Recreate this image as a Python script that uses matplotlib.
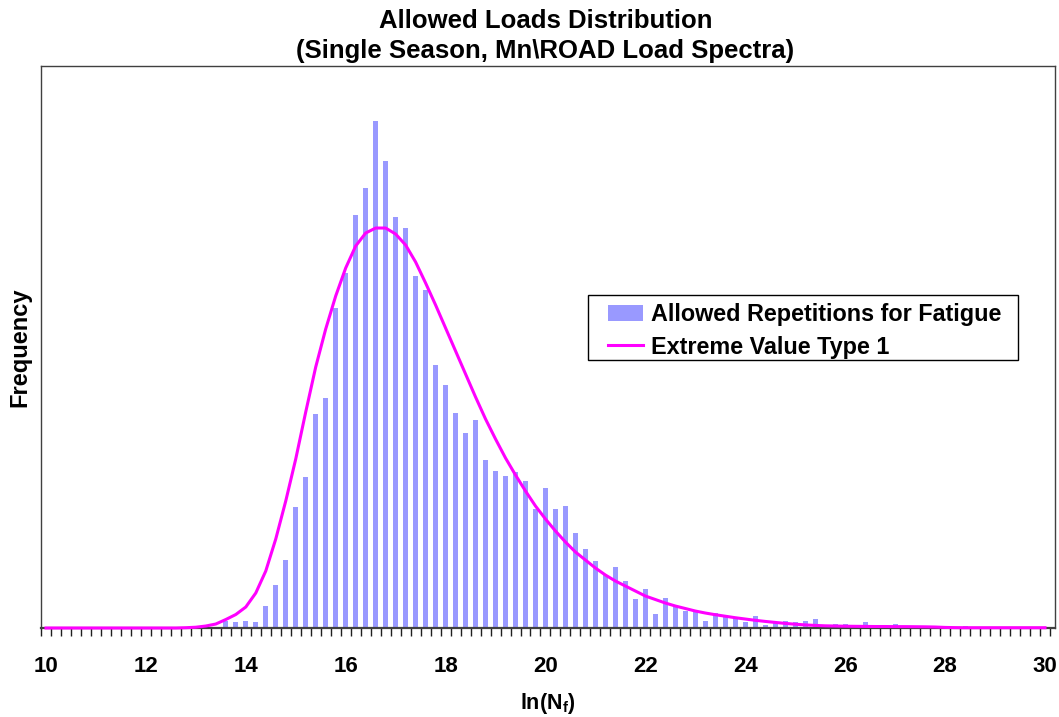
import numpy as np
import matplotlib
matplotlib.use('Agg')
import matplotlib.pyplot as plt
from matplotlib.patches import Rectangle

plt.rcParams['font.family'] = ['Liberation Sans', 'DejaVu Sans']
plt.rcParams['font.weight'] = 'bold'
plt.rcParams['mathtext.fontset'] = 'custom'
plt.rcParams['mathtext.rm'] = 'Liberation Sans'
plt.rcParams['mathtext.bf'] = 'Liberation Sans:bold'
plt.rcParams['mathtext.it'] = 'Liberation Sans:italic'

# ln(Nf) categories, 10.0 to 30.0 in steps of 0.2
ln_nf = np.round(np.arange(101) * 0.2 + 10.0, 1)

# Histogram of allowed repetitions (frequency, arbitrary units)
freq = [0] * 18 + [
    7, 6, 7, 6, 22, 43, 68, 121, 151, 214,
    230, 320, 355, 413, 440, 507, 467, 411, 400, 352,
    338, 263, 243, 215, 195, 208, 168, 157, 152, 156,
    147, 119, 140, 119, 122, 95, 79, 67, 53, 61,
    47, 29, 39, 14, 30, 21, 17, 16, 7, 15,
    11, 10, 6, 12, 3, 5, 7, 6, 7, 9,
    2, 4, 4, 2, 6, 1, 1, 4.5, 1, 1,
    1, 0.5, 0.5, 0.5, 1.7,
] + [0] * 8

# Fitted Extreme Value Type 1 curve (same units)
ev1 = [0] * 14 + [
    0.3, 0.8, 2, 4, 8.5, 13.5, 21, 35, 57, 89,
    127, 169, 216, 261, 299, 332, 360, 382, 395, 400,
    400, 394, 383, 366, 345, 323, 300, 277, 254, 231,
    209, 189, 170, 153, 137, 122, 109, 97, 86, 76,
    68, 60, 53, 47, 42, 37, 32, 28.5, 25, 22,
    19.5, 17, 15, 13.3, 11.8, 10.3, 9, 7.7, 6.6, 5.6,
    4.6, 3.8, 3.1, 2.6, 2.2, 2, 1.8, 1.7, 1.6, 1.5,
    1.5, 1.4, 1.4, 1.3, 1.2, 1.0, 0.6, 0.4,
] + [0.3] * 9

fig = plt.figure(figsize=(10.59, 7.17), dpi=100)
ax = fig.add_axes([0.0387, 0.1241, 0.9575, 0.7838])

bars = ax.bar(ln_nf, freq, width=0.1, color='#9999FF', label='Allowed Repetitions for Fatigue', zorder=2)
line, = ax.plot(ln_nf, ev1, color='#FF00FF', lw=2.2, label='Extreme Value Type 1', zorder=3, clip_on=False)

ax.set_xlim(9.9, 30.2)
ax.set_ylim(0, 562)
ax.set_yticks([])

ax.set_xticks(np.arange(10, 31, 2))
ax.set_xticklabels([str(v) for v in range(10, 31, 2)], fontsize=16, fontweight='bold')
ax.set_xticks(np.arange(9.9, 30.25, 0.2), minor=True)
ax.tick_params(axis='x', which='major', length=0, pad=20)
ax.tick_params(axis='x', which='minor', length=5.5, width=1, color='#202020', direction='out')

for s in ax.spines.values():
    s.set_color('#404040')
    s.set_linewidth(1.0)
ax.spines['bottom'].set_linewidth(1.6)

ax.set_xlabel(r'$\mathbf{ln(N_f)}$', fontsize=15.5, labelpad=10)
ax.set_ylabel('Frequency', fontsize=17, fontweight='bold', labelpad=7)

fig.text(0.515, 0.950, 'Allowed Loads Distribution\n(Single Season, Mn\\ROAD Load Spectra)',
         ha='center', va='center', fontsize=18.5, fontweight='bold', linespacing=1.35)

# legend box drawn separately so the inner padding can match
ax.add_patch(Rectangle((0.5394, 0.4769), 0.424, 0.1157, transform=ax.transAxes,
                       facecolor='white', edgecolor='black', lw=1.0, zorder=4))
leg = ax.legend([bars, line], ['Allowed Repetitions for Fatigue', 'Extreme Value Type 1'],
                loc='upper left', bbox_to_anchor=(0.559, 0.578), fontsize=16.8,
                frameon=False, borderpad=0, handlelength=1.5, handletextpad=0.35,
                labelspacing=0.4, borderaxespad=0)
leg.set_zorder(5)

plt.savefig('out.png', dpi=100)
